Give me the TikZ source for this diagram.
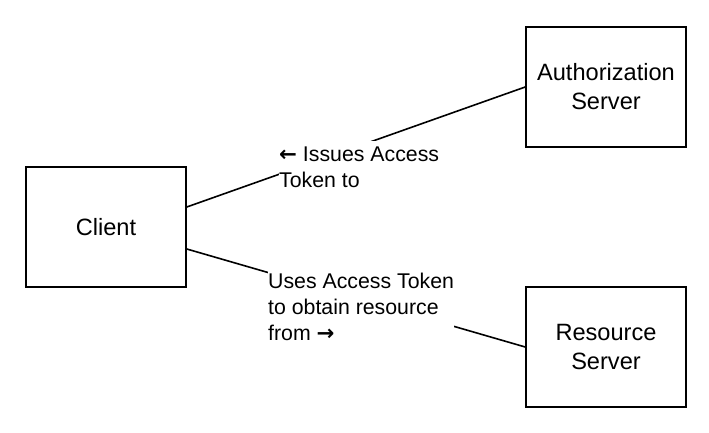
\documentclass[tikz,border=0pt]{standalone}
\usepackage{fontspec}
\setmainfont{Liberation Sans}
\newfontfamily\arrowfont{DejaVu Sans}
\newcommand{\larr}{{\arrowfont\bfseries ←}}
\newcommand{\rarr}{{\arrowfont\bfseries →}}
\begin{document}
\begin{tikzpicture}[x=1pt,y=-1pt,
  box/.style={draw=black,line width=1.6pt,fill=white,minimum width=160pt,minimum height=120pt,align=center,inner sep=0pt,font=\fontsize{23.6}{29}\selectfont},
  conn/.style={draw=black,line width=1.6pt},
  elabel/.style={fill=white,align=left,inner xsep=0pt,inner ysep=6pt,anchor=north west,font=\fontsize{21.3}{26}\selectfont}]
\useasboundingbox[fill=white] (0,0) rectangle (709,433);
\node[box] (client) at (106,227) {Client};
\node[box] (auth) at (606,87) {Authorization\\Server};
\node[box] (res) at (606,347) {Resource\\Server};
\draw[conn] ([yshift=20pt]client.east) -- (auth.west);
\draw[conn] ([yshift=-22pt]client.east) -- (res.west);
\node[elabel] (l1) at (279,141) {\larr\ Issues Access\\Token to};
\node[elabel] (l2) at (268,267) {Uses Access Token\\to obtain resource\\from \rarr};
\end{tikzpicture}
\end{document}
